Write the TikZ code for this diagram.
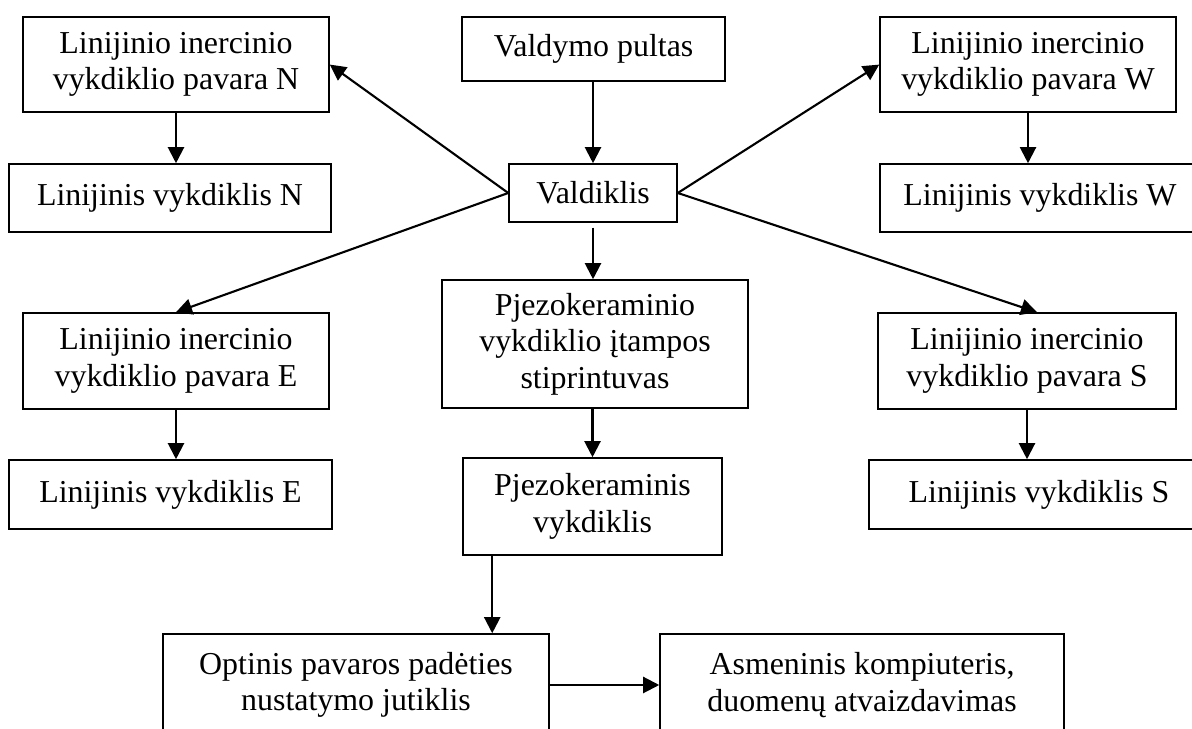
\documentclass[tikz,border=0pt]{standalone}
\usepackage{fontspec}
\setmainfont{Liberation Serif}
\usetikzlibrary{arrows.meta,calc}

\begin{document}
\begin{tikzpicture}[
    >={Triangle[length=0.4cm,width=0.4cm]},
    every node/.style={font=\fontsize{22.7pt}{26pt}\selectfont},
    block/.style={
        draw=black,
        line width=1.1pt,
        align=center,
        inner sep=0pt,
        fill=white,
    },
    link/.style={->,line width=1.5pt,color=black},
]

\path[use as bounding box,clip] (0,0) rectangle (29.8,18.225);

% === Control ===
\node[block,minimum width=6.575cm,minimum height=1.6cm] (pult) at (14.84,17) {Valdymo pultas};
\node[block,minimum width=4.2cm,minimum height=1.45cm] (vald) at (14.825,13.4) {Valdiklis};

\draw[link] (pult.south -| vald.north) -- (vald.north);

% === Drives N / W ===
\node[block,minimum width=7.65cm,minimum height=2.375cm] (drvN) at (4.4,16.61) {Linijinio inercinio\\vykdiklio pavara N};
\node[block,minimum width=8.05cm,minimum height=1.7cm] (actN) at (4.25,13.275) {Linijinis vykdiklis N};

\node[block,minimum width=7.4cm,minimum height=2.375cm] (drvW) at (25.7,16.61) {Linijinio inercinio\\vykdiklio pavara W};
\node[block,minimum width=8cm,minimum height=1.7cm] (actW) at (26,13.275) {Linijinis vykdiklis W};

% === Drives E / S ===
\node[block,minimum width=7.65cm,minimum height=2.4cm] (drvE) at (4.4,9.2) {Linijinio inercinio\\vykdiklio pavara E};
\node[block,minimum width=8.075cm,minimum height=1.725cm] (actE) at (4.2625,5.8625) {Linijinis vykdiklis E};

\node[block,minimum width=7.45cm,minimum height=2.4cm] (drvS) at (25.675,9.2) {Linijinio inercinio\\vykdiklio pavara S};
\node[block,minimum width=8.5cm,minimum height=1.725cm] (actS) at (25.975,5.8625) {Linijinis vykdiklis S};

\draw[link] (vald.west) -- (drvN.east);
\draw[link] (vald.west) -- (drvE.north);
\draw[link] (vald.east) -- (drvW.west);
\draw[link] (vald.east) -- ([xshift=0.25cm]drvS.north);

\draw[link] (drvN.south) -- (drvN.south |- actN.north);
\draw[link] (drvW.south) -- (drvW.south |- actW.north);
\draw[link] (drvE.south) -- (drvE.south |- actE.north);
\draw[link] (drvS.south) -- (drvS.south |- actS.north);

% === Piezo chain ===
\node[block,minimum width=7.65cm,minimum height=3.2cm] (amp) at (14.875,9.625) {Pjezokeraminio\\vykdiklio įtampos\\stiprintuvas};
\node[block,minimum width=6.475cm,minimum height=2.425cm] (pjezo) at (14.8125,5.5625) {Pjezokeraminis\\vykdiklis};

\draw[link,shorten <=0.12cm] (vald.south) -- (vald.south |- amp.north);
\draw[link] (amp.south -| pjezo.north) -- (pjezo.north);

% === Sensor and PC (cut at the bottom) ===
\node[block,minimum width=9.65cm,minimum height=2.55cm] (opt) at (8.9,1.1) {Optinis pavaros padėties\\nustatymo jutiklis};
\node[block,minimum width=10.1cm,minimum height=2.55cm] (asm) at (21.55,1.1) {Asmeninis kompiuteris,\\duomenų atvaizdavimas};

\draw[link] ([xshift=0.75cm]pjezo.south west) -- ([xshift=0.75cm]pjezo.south west |- opt.north);
\draw[link] (opt.east) -- (asm.west);

\end{tikzpicture}
\end{document}
